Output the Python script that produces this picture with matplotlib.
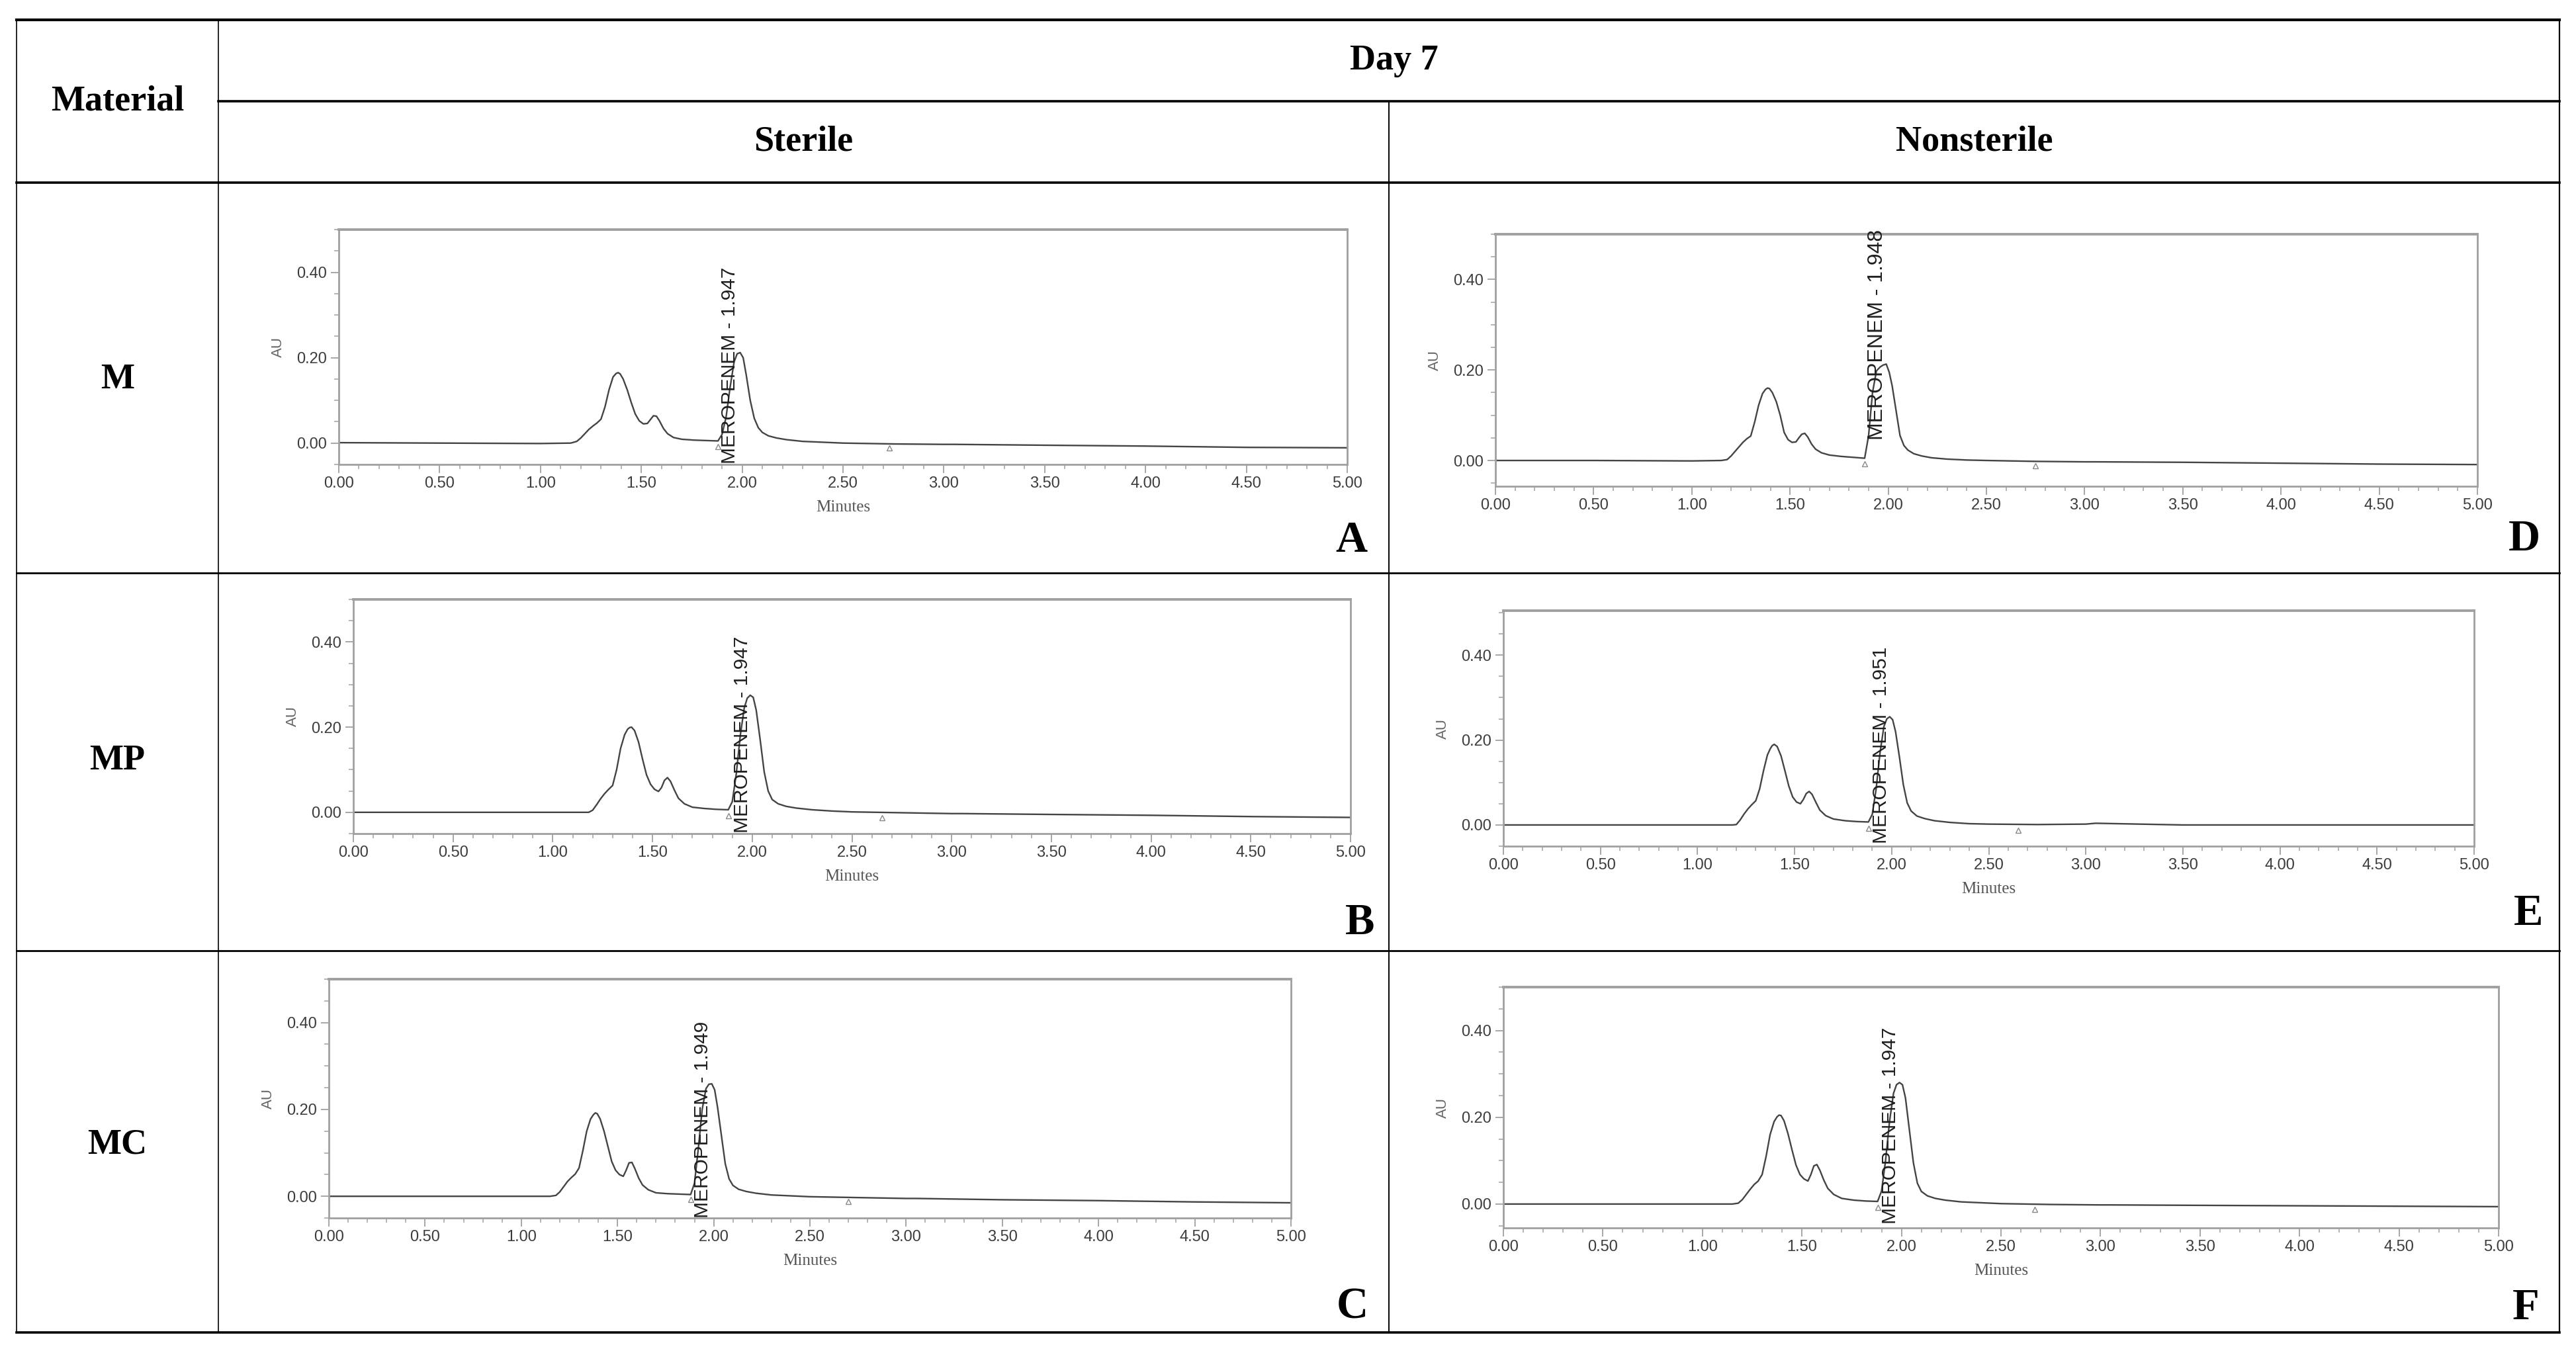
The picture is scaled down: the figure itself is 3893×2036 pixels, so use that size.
import matplotlib
matplotlib.use("Agg")
import matplotlib.pyplot as plt
from matplotlib.ticker import MultipleLocator, FormatStrFormatter

# ---------------- data ----------------
rows = ["M", "MP", "MC"]
columns = ["Sterile", "Nonsterile"]
panel_letters = ["A", "D", "B", "E", "C", "F"]
retention_labels = ["MEROPENEM - 1.947", "MEROPENEM - 1.948", "MEROPENEM - 1.947",
                    "MEROPENEM - 1.951", "MEROPENEM - 1.949", "MEROPENEM - 1.947"]

# retention time (minutes), shared by all six chromatograms
T = [0.00, 0.50, 1.00, 1.15, 1.18, 1.20, 1.22, 1.24, 1.26, 1.28,
     1.30, 1.32, 1.34, 1.36, 1.375, 1.385, 1.395, 1.41, 1.43, 1.45,
     1.47, 1.49, 1.51, 1.53, 1.545, 1.56, 1.575, 1.59, 1.61, 1.63,
     1.66, 1.70, 1.76, 1.82, 1.88, 1.90, 1.92, 1.94, 1.96, 1.975,
     1.99, 2.005, 2.02, 2.04, 2.06, 2.08, 2.10, 2.13, 2.17, 2.22,
     2.30, 2.40, 2.50, 2.75, 3.00, 3.05, 3.50, 4.00, 4.50, 5.00]

# absorbance (AU)
A_v = [0.001, 0.000, -0.001, 0.000, 0.004, 0.012, 0.022, 0.032, 0.040, 0.047,
       0.056, 0.085, 0.125, 0.155, 0.163, 0.165, 0.162, 0.150, 0.125, 0.095,
       0.068, 0.052, 0.045, 0.046, 0.055, 0.064, 0.063, 0.052, 0.034, 0.022,
       0.013, 0.009, 0.007, 0.006, 0.005, 0.020, 0.060, 0.130, 0.190, 0.209,
       0.212, 0.200, 0.160, 0.100, 0.058, 0.036, 0.025, 0.017, 0.012, 0.008,
       0.004, 0.002, 0.000, -0.002, -0.003, -0.003, -0.005, -0.007, -0.010, -0.011]
D_v = [0.000, 0.000, -0.001, 0.000, 0.002, 0.010, 0.020, 0.030, 0.040, 0.048,
       0.054, 0.085, 0.122, 0.148, 0.157, 0.160, 0.159, 0.150, 0.130, 0.100,
       0.062, 0.046, 0.040, 0.041, 0.050, 0.058, 0.060, 0.052, 0.036, 0.025,
       0.017, 0.012, 0.009, 0.007, 0.005, 0.055, 0.150, 0.198, 0.207, 0.211,
       0.213, 0.195, 0.165, 0.110, 0.055, 0.033, 0.023, 0.015, 0.010, 0.006,
       0.003, 0.001, 0.000, -0.002, -0.003, -0.003, -0.004, -0.006, -0.008, -0.009]
B_v = [0.000, 0.000, 0.000, 0.000, 0.000, 0.005, 0.018, 0.032, 0.044, 0.054,
       0.063, 0.100, 0.150, 0.182, 0.195, 0.199, 0.200, 0.192, 0.165, 0.125,
       0.088, 0.066, 0.054, 0.049, 0.058, 0.075, 0.0815, 0.073, 0.052, 0.033,
       0.020, 0.012, 0.009, 0.007, 0.006, 0.025, 0.090, 0.180, 0.245, 0.268,
       0.275, 0.270, 0.240, 0.170, 0.095, 0.050, 0.030, 0.020, 0.014, 0.010,
       0.006, 0.003, 0.001, -0.001, -0.003, -0.003, -0.005, -0.007, -0.010, -0.012]
E_v = [0.000, 0.000, 0.000, 0.000, 0.000, 0.001, 0.012, 0.026, 0.038, 0.048,
       0.057, 0.085, 0.128, 0.165, 0.180, 0.187, 0.190, 0.185, 0.163, 0.128,
       0.092, 0.066, 0.054, 0.050, 0.060, 0.074, 0.079, 0.072, 0.053, 0.035,
       0.022, 0.014, 0.010, 0.008, 0.007, 0.025, 0.085, 0.170, 0.232, 0.250,
       0.255, 0.248, 0.220, 0.160, 0.095, 0.052, 0.033, 0.021, 0.015, 0.010,
       0.006, 0.003, 0.002, 0.001, 0.002, 0.004, 0.000, 0.000, 0.000, 0.000]
C_v = [0.000, 0.000, 0.000, 0.000, 0.002, 0.010, 0.022, 0.034, 0.043, 0.051,
       0.065, 0.105, 0.150, 0.178, 0.188, 0.192, 0.190, 0.178, 0.150, 0.115,
       0.080, 0.060, 0.050, 0.046, 0.060, 0.077, 0.078, 0.064, 0.042, 0.026,
       0.015, 0.008, 0.006, 0.005, 0.004, 0.030, 0.110, 0.200, 0.248, 0.258,
       0.259, 0.245, 0.205, 0.140, 0.075, 0.040, 0.025, 0.016, 0.011, 0.007,
       0.003, 0.001, -0.001, -0.003, -0.005, -0.005, -0.008, -0.010, -0.013, -0.015]
F_v = [0.000, 0.000, 0.000, 0.000, 0.002, 0.010, 0.022, 0.034, 0.045, 0.053,
       0.068, 0.110, 0.160, 0.190, 0.201, 0.205, 0.204, 0.192, 0.162, 0.125,
       0.090, 0.068, 0.058, 0.053, 0.068, 0.088, 0.091, 0.078, 0.055, 0.036,
       0.022, 0.013, 0.009, 0.007, 0.006, 0.030, 0.100, 0.190, 0.255, 0.275,
       0.280, 0.275, 0.245, 0.170, 0.095, 0.048, 0.029, 0.019, 0.013, 0.009,
       0.005, 0.003, 0.001, -0.001, -0.002, -0.002, -0.003, -0.004, -0.005, -0.006]

# integration start/end markers (minutes, AU)
marker_t = [[1.88, 2.73], [1.88, 2.75], [1.88, 2.65], [1.88, 2.65], [1.88, 2.70], [1.88, 2.67]]
marker_v = [[-0.008, -0.012], [-0.008, -0.012], [-0.008, -0.012], [-0.008, -0.012], [-0.008, -0.012],
            [-0.008, -0.012]]

x_ticks = [0.00, 0.50, 1.00, 1.50, 2.00, 2.50, 3.00, 3.50, 4.00, 4.50, 5.00]
y_ticks = [0.00, 0.20, 0.40]

traces = [A_v, D_v, B_v, E_v, C_v, F_v]

# ---------------- layout (pixels) ----------------
W, H = 3893, 2036
fig = plt.figure(figsize=(W / 100, H / 100), dpi=100)
fig.patch.set_facecolor("white")

bg = fig.add_axes([0, 0, 1, 1], zorder=0)
bg.set_xlim(0, W)
bg.set_ylim(H, 0)
bg.axis("off")

serif = ["Liberation Serif", "DejaVu Serif"]
sans = ["Liberation Sans", "DejaVu Sans"]

tbl_l, tbl_m, tbl_c, tbl_r = 25, 330, 2099, 3868
tbl_top, h1, h2, r1, r2, tbl_bot = 30, 153, 276, 866, 1437, 2014
lc = "black"
bg.plot([tbl_l, tbl_r], [tbl_top, tbl_top], color=lc, lw=3.0)
bg.plot([tbl_m, tbl_r], [h1, h1], color=lc, lw=2.6)
bg.plot([tbl_l, tbl_r], [h2, h2], color=lc, lw=2.6)
bg.plot([tbl_l, tbl_r], [r1, r1], color=lc, lw=2.0)
bg.plot([tbl_l, tbl_r], [r2, r2], color=lc, lw=2.0)
bg.plot([tbl_l, tbl_r], [tbl_bot, tbl_bot], color=lc, lw=2.6)
bg.plot([tbl_l, tbl_l], [tbl_top, tbl_bot], color=lc, lw=1.2)
bg.plot([tbl_m, tbl_m], [tbl_top, tbl_bot], color=lc, lw=1.2)
bg.plot([tbl_c, tbl_c], [h1, tbl_bot], color=lc, lw=1.4)
bg.plot([tbl_r, tbl_r], [tbl_top, tbl_bot], color=lc, lw=1.6)

hfs = 39
bg.text((tbl_l + tbl_m) / 2, (tbl_top + h2) / 2, "Material", ha="center", va="center",
        fontsize=hfs, fontweight="bold", family=serif)
bg.text((tbl_m + tbl_r) / 2 + 8, (tbl_top + h1) / 2, "Day 7", ha="center", va="center",
        fontsize=hfs, fontweight="bold", family=serif)
bg.text((tbl_m + tbl_c) / 2, (h1 + h2) / 2, columns[0], ha="center", va="center",
        fontsize=hfs, fontweight="bold", family=serif)
bg.text((tbl_c + tbl_r) / 2, (h1 + h2) / 2, columns[1], ha="center", va="center",
        fontsize=hfs, fontweight="bold", family=serif)
for name, yc in zip(rows, [574, 1150, 1731]):
    bg.text((tbl_l + tbl_m) / 2, yc, name, ha="center", va="center",
            fontsize=hfs, fontweight="bold", family=serif)

# panel boxes: left, right, top, bottom (px), ylim
boxes = [
    (512, 2036, 347, 702, (-0.05, 0.50)),
    (2260, 3744, 354, 735, (-0.057, 0.50)),
    (534, 2041, 906, 1260, (-0.05, 0.50)),
    (2272, 3739, 923, 1279, (-0.05, 0.505)),
    (497, 1951, 1480, 1841, (-0.05, 0.50)),
    (2272, 3776, 1492, 1856, (-0.055, 0.50)),
]
letter_pos = [(2042, 817), (3815, 816), (2055, 1395), (3821, 1382), (2044, 1976), (3817, 1977)]
label_bottom = [-0.048, 0.045, -0.048, -0.044, -0.05, -0.046]
label_x = [1.94, 1.945, 1.95, 1.946, 1.943, 1.945]
label_fs = [21.5, 23, 21.5, 21.5, 21.5, 21.5]
show_minutes = [True, False, True, True, True, True]

frame_c = "#a0a0a0"
tick_c = "#3c3c3c"
trace_c = "#444444"

for i, (v, (L, R, Tp, B, yl)) in enumerate(zip(traces, boxes)):
    ax = fig.add_axes([L / W, 1 - B / H, (R - L) / W, (B - Tp) / H], zorder=2)
    ax.plot(T, v, color=trace_c, lw=1.7, solid_joinstyle="round")
    ax.plot(marker_t[i], marker_v[i], linestyle="none", marker="^", markersize=6,
            markerfacecolor="white", markeredgecolor="#888888", markeredgewidth=1.0)
    ax.set_xlim(0, 5)
    ax.set_ylim(*yl)
    for s in ax.spines.values():
        s.set_color(frame_c)
        s.set_linewidth(2.0)
    ax.spines["top"].set_linewidth(2.8)
    ax.xaxis.set_minor_locator(MultipleLocator(0.1))
    ax.yaxis.set_minor_locator(MultipleLocator(0.05))
    ax.set_xticks(x_ticks)
    ax.set_yticks(y_ticks)
    ax.xaxis.set_major_formatter(FormatStrFormatter("%.2f"))
    ax.yaxis.set_major_formatter(FormatStrFormatter("%.2f"))
    ax.tick_params(which="major", direction="out", length=9, width=1.3, color=frame_c,
                   labelsize=17, labelcolor=tick_c, pad=4)
    ax.tick_params(which="minor", direction="out", length=5, width=1.1, color=frame_c)
    for lab in ax.get_xticklabels() + ax.get_yticklabels():
        lab.set_family(sans)
    ax.set_ylabel("AU", fontsize=16, color="#666666", family=sans, labelpad=12)
    if show_minutes[i]:
        ax.set_xlabel("Minutes", fontsize=18, color="#555555", family=serif, labelpad=10)
    ax.text(label_x[i], label_bottom[i], retention_labels[i], rotation=90, ha="center", va="bottom",
            fontsize=label_fs[i], color="#1e1e1e", family=sans)
    bg.text(letter_pos[i][0], letter_pos[i][1], panel_letters[i], ha="center", va="center",
            fontsize=48, fontweight="bold", family=serif)

fig.savefig("out.png", dpi=100, facecolor="white")
